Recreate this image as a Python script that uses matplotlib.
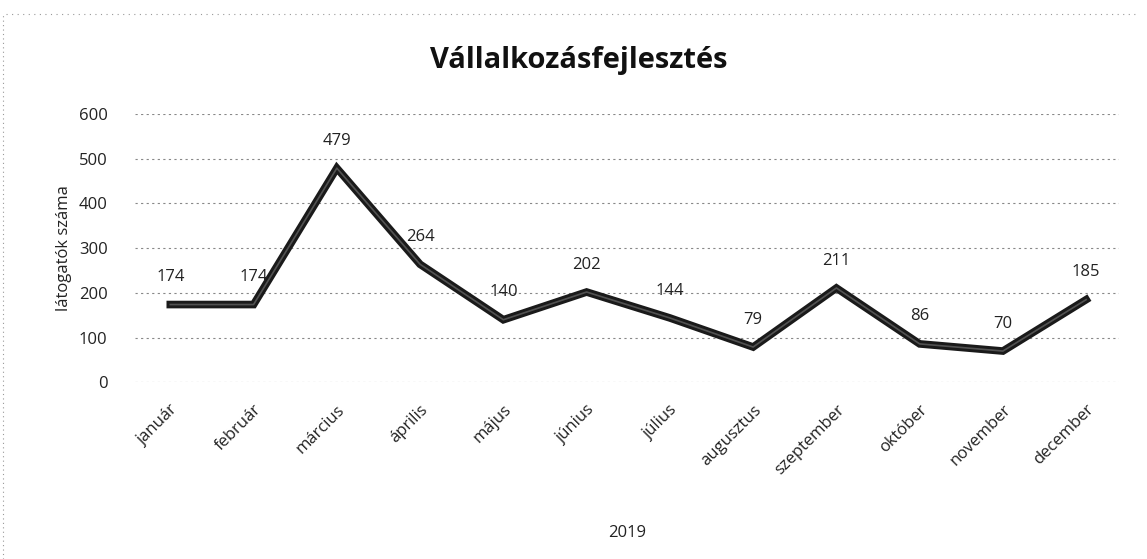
import matplotlib.pyplot as plt

plt.rcParams['font.family'] = ['Open Sans', 'DejaVu Sans']

months = ["január", "február", "március", "április", "május", "június",
          "július", "augusztus", "szeptember", "október", "november", "december"]
visitors = [174, 174, 479, 264, 140, 202, 144, 79, 211, 86, 70, 185]
y_ticks = [0, 100, 200, 300, 400, 500, 600]

fig = plt.figure(figsize=(11.47, 5.59), dpi=100)
ax = fig.add_axes([0.118, 0.316, 0.858, 0.48])

x = list(range(len(months)))
ax.plot(x, visitors, color="#1a1a1a", linewidth=5.5, solid_joinstyle="miter")
ax.plot(x, visitors, color="#808080", linewidth=1.2, alpha=0.55)

for xi, v in zip(x, visitors):
    ax.annotate(str(v), (xi, v), xytext=(0, 14), textcoords="offset points",
                ha="center", va="bottom", fontsize=12, color="#222222")

ax.set_xlim(-0.42, 11.4)
ax.set_ylim(0, 600)
ax.set_yticks(y_ticks)
ax.set_xticks(x)
ax.set_xticklabels(months, rotation=45, ha="right", rotation_mode="anchor",
                   fontsize=12, color="#222222")
ax.tick_params(axis="y", labelsize=12, labelcolor="#222222", length=0, pad=20)
ax.tick_params(axis="x", length=0, pad=14)
ax.grid(axis="y", color="#888888", linestyle=(0, (2, 3)), linewidth=0.8)
for s in ax.spines.values():
    s.set_visible(False)

ax.set_ylabel("látogatók száma", fontsize=12, color="#222222", labelpad=5)
ax.set_xlabel("2019", fontsize=12, color="#222222", labelpad=34)
fig.text(0.505, 0.892, "Vállalkozásfejlesztés", ha="center", va="center",
         fontsize=21, fontweight="bold", color="#111111")

# dotted scan edges along the top and left
fig.add_artist(plt.Line2D([0.005, 0.99], [0.975, 0.975], color="#999999",
                          linestyle=(0, (1, 4)), linewidth=0.8))
fig.add_artist(plt.Line2D([0.003, 0.003], [0.0, 0.975], color="#999999",
                          linestyle=(0, (1, 3)), linewidth=0.8))

fig.savefig("out.png", dpi=100)
